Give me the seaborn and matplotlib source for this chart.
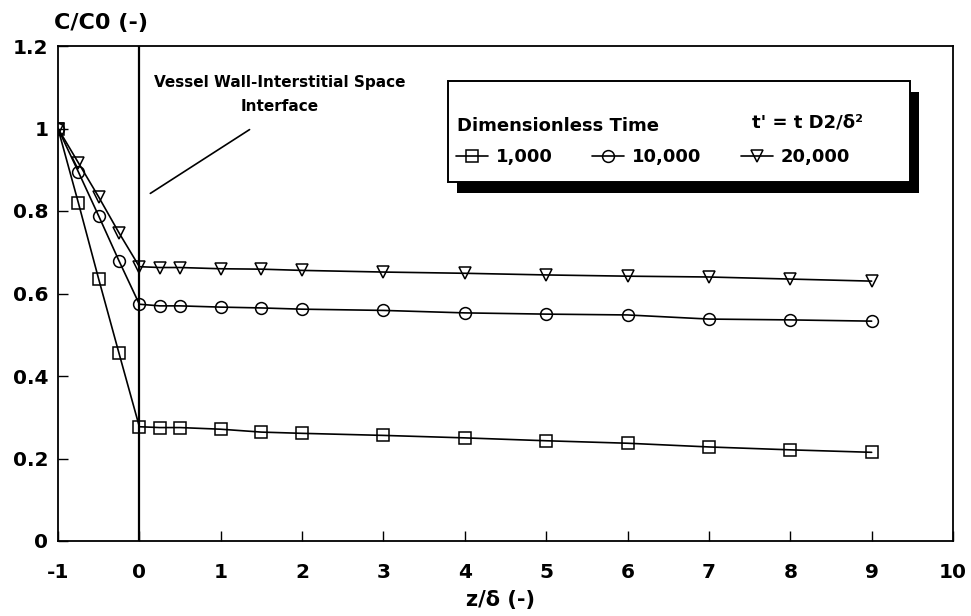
import numpy as np
import pandas as pd
import matplotlib
matplotlib.use("Agg")
import matplotlib.pyplot as plt
import seaborn as sns
from matplotlib.lines import Line2D
from matplotlib.patches import Rectangle

# ---- data ----
z = [-1, -0.75, -0.5, -0.25, 0, 0.25, 0.5, 1, 1.5, 2, 3, 4, 5, 6, 7, 8, 9]
c_1000 = [1.0, 0.82, 0.635, 0.455, 0.277, 0.275, 0.275, 0.271, 0.264, 0.261,
          0.256, 0.25, 0.243, 0.237, 0.228, 0.221, 0.215]
c_10000 = [1.0, 0.895, 0.788, 0.679, 0.574, 0.57, 0.57, 0.567, 0.565, 0.562,
           0.559, 0.553, 0.55, 0.548, 0.538, 0.536, 0.533]
c_20000 = [1.0, 0.917, 0.834, 0.747, 0.665, 0.663, 0.663, 0.66, 0.659, 0.656,
           0.652, 0.649, 0.645, 0.642, 0.64, 0.635, 0.63]
times = ["1,000", "10,000", "20,000"]
markers = ["s", "o", "v"]
xticks = list(range(-1, 11))
yticks = [0, 0.2, 0.4, 0.6, 0.8, 1.0, 1.2]
ytick_labels = ["0", "0.2", "0.4", "0.6", "0.8", "1", "1.2"]

df = pd.DataFrame({
    "z": z * 3,
    "c": c_1000 + c_10000 + c_20000,
    "t": np.repeat(times, len(z)),
})

sns.set_style("white")
plt.rcParams["font.family"] = ["DejaVu Sans"]
plt.rcParams["font.weight"] = "bold"
plt.rcParams["text.color"] = "black"
plt.rcParams["axes.labelcolor"] = "black"
plt.rcParams["xtick.color"] = "black"
plt.rcParams["ytick.color"] = "black"
plt.rcParams["legend.labelcolor"] = "black"

fig = plt.figure(figsize=(9.71, 6.16), dpi=100)
ax = fig.add_axes([58 / 971, 1 - 541 / 616, 895 / 971, 495 / 616])

sns.lineplot(data=df, x="z", y="c", hue="t", style="t", markers=markers,
             dashes=False, palette={t: "black" for t in times}, sort=False,
             estimator=None, legend=False, ax=ax, linewidth=1.2,
             markersize=8.5, markerfacecolor="none", markeredgecolor="black",
             markeredgewidth=1.1)

ax.axvline(0, color="black", lw=1.6, zorder=3)

ax.set_xlim(-1, 10)
ax.set_ylim(0, 1.2)
ax.set_xticks(xticks)
ax.set_xticklabels([str(v) for v in xticks])
ax.set_yticks(yticks)
ax.set_yticklabels(ytick_labels)
ax.tick_params(axis="both", direction="in", length=7, width=1,
               labelsize=14.5, colors="black")
ax.tick_params(axis="x", pad=16, top=False, bottom=True)
ax.tick_params(axis="y", pad=7, left=True, right=False)
for s in ax.spines.values():
    s.set_color("black")
    s.set_linewidth(1.3)

# axis labels
ax.set_xlabel("z/δ (-)", fontsize=15, fontweight="bold", color="black")
ax.xaxis.label.set_va("center")
ax.xaxis.set_label_coords(0.494, -0.119)
ax.set_ylabel("C/C0 (-)", fontsize=16, fontweight="bold", rotation=0,
              ha="left", va="center", color="black")
ax.yaxis.set_label_coords(-0.004, 1.047)

# interface annotation
ax.annotate("", xy=(0.106, 0.839), xytext=(1.383, 1.001),
            arrowprops=dict(arrowstyle="-", lw=1.2, color="black"))
ax.text(1.73, 1.082, "Vessel Wall-Interstitial Space\nInterface",
        ha="center", va="center", multialignment="center", color="black",
        fontsize=11, fontweight="bold", linespacing=1.75)

# legend box with hard shadow
ax.add_patch(Rectangle((0.436 + 0.010, 0.725 - 0.021), 0.516, 0.204,
                       transform=ax.transAxes, facecolor="black",
                       edgecolor="none", zorder=5, clip_on=False))
ax.add_patch(Rectangle((0.436, 0.725), 0.516, 0.204, transform=ax.transAxes,
                       facecolor="white", edgecolor="black", lw=1.4,
                       zorder=6, clip_on=False))
ax.text(0.4458, 0.838, "Dimensionless Time", transform=ax.transAxes,
        ha="left", va="center", fontsize=13, fontweight="bold",
        color="black", zorder=8)
ax.text(0.7754, 0.845, "t' = t D2/δ²", transform=ax.transAxes,
        ha="left", va="center", fontsize=13, fontweight="bold",
        color="black", zorder=8)

handles = [Line2D([], [], color="black", lw=1.2, marker=m, markersize=8.5,
                  markerfacecolor="none", markeredgecolor="black",
                  markeredgewidth=1.1) for m in markers]
leg = ax.legend(handles, times, loc="center left",
                bbox_to_anchor=(0.4447, 0.7758), ncol=3, frameon=False,
                borderpad=0, borderaxespad=0, handlelength=1.75,
                handletextpad=0.45, columnspacing=2.2,
                prop={"weight": "bold", "size": 13}, labelcolor="black")
leg.set_zorder(8)

fig.savefig("out.png", dpi=100)
